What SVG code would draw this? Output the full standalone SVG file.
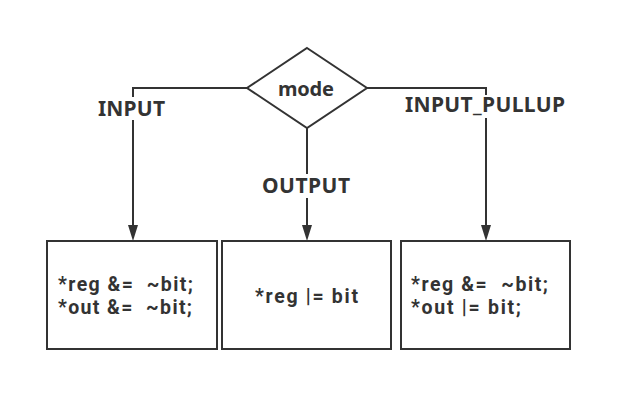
<svg xmlns="http://www.w3.org/2000/svg" width="631" height="411" viewBox="0 0 631 411">
<defs>
<style>
.shape{fill:#fff;stroke:#333;stroke-width:2}
.conn{fill:none;stroke:#333;stroke-width:2}
.t{font-family:"Noto Sans","Open Sans","DejaVu Sans",sans-serif;font-weight:bold;fill:#333}
.lbl{font-size:21px}
.code{font-size:20px}
.box{font-family:Roboto,"Noto Sans","DejaVu Sans",sans-serif;font-size:19.5px}
</style>
</defs>
<rect width="631" height="411" fill="#fff"/>
<g id="connectors">
<path class="conn" d="M247,88 H133 V97"/>
<path class="conn" d="M133,120 V225"/>
<path d="M128,225 L138,225 L133,241 Z" fill="#333"/>
<path class="conn" d="M307,127 V174"/>
<path class="conn" d="M307,198 V225"/>
<path d="M302,225 L312,225 L307,241 Z" fill="#333"/>
<path class="conn" d="M367,88 H486 V95"/>
<path class="conn" d="M486,118 V225"/>
<path d="M481,225 L491,225 L486,241 Z" fill="#333"/>
<text class="t lbl" x="98" y="116" textLength="67">INPUT</text>
<text class="t lbl" x="262" y="193" textLength="88">OUTPUT</text>
<text class="t lbl" x="405" y="112" textLength="160">INPUT_PULLUP</text>
</g>
<g id="mode">
<polygon class="shape" points="307,48 367,88 307,128 247,88"/>
<text class="t code" x="278" y="96" textLength="56">mode</text>
</g>
<g id="input-box">
<rect class="shape" x="47" y="241" width="170" height="108"/>
<text class="t box" x="58" y="291" textLength="135" xml:space="preserve">*reg &amp;=  ~bit;</text>
<text class="t box" x="58" y="314" textLength="134" xml:space="preserve">*out &amp;=  ~bit;</text>
</g>
<g id="output-box">
<rect class="shape" x="222" y="241" width="169" height="108"/>
<text class="t box" x="255" y="303" textLength="103">*reg |= bit</text>
</g>
<g id="pullup-box">
<rect class="shape" x="401" y="241" width="169" height="108"/>
<text class="t box" x="411" y="291" textLength="137" xml:space="preserve">*reg &amp;=  ~bit;</text>
<text class="t box" x="411" y="314" textLength="110">*out |= bit;</text>
</g>
</svg>
